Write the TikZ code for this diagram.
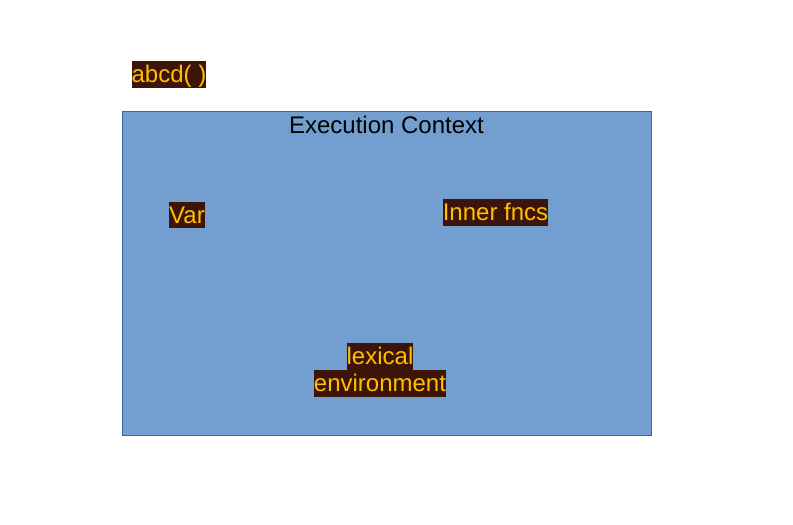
\documentclass[tikz,border=0pt]{standalone}
\usepackage{fontspec}
\setmainfont{Liberation Sans}
\definecolor{ecfill}{HTML}{729FCF}
\definecolor{ecdraw}{HTML}{3465A4}
\definecolor{labbg}{HTML}{3C1508}
\definecolor{labfg}{HTML}{FFBF00}
\begin{document}
\begin{tikzpicture}[x=1pt,y=-1pt,
  lab/.style={fill=labbg,text=labfg,inner sep=0pt,text height=21.7pt,text depth=5.1pt,font=\fontsize{24}{28}\selectfont},
  title/.style={inner sep=0pt,text height=21.7pt,text depth=5.1pt,font=\fontsize{24}{28}\selectfont,text=black}]
\useasboundingbox (0,0) rectangle (793,525);
\draw[ecdraw,fill=ecfill,line width=1pt] (122,111) rectangle (651,435);
\node[title] (ec) at (386.5,124.7) {Execution Context};
\node[lab] (abcd) at (169,74.5) {abcd( )};
\node[lab] (var) at (187,215) {Var};
\node[lab] (inner) at (495.5,212.5) {Inner fncs};
\node[lab] (lex1) at (380,356.5) {lexical};
\node[lab] (lex2) at (380,383.5) {environment};
\end{tikzpicture}
\end{document}
